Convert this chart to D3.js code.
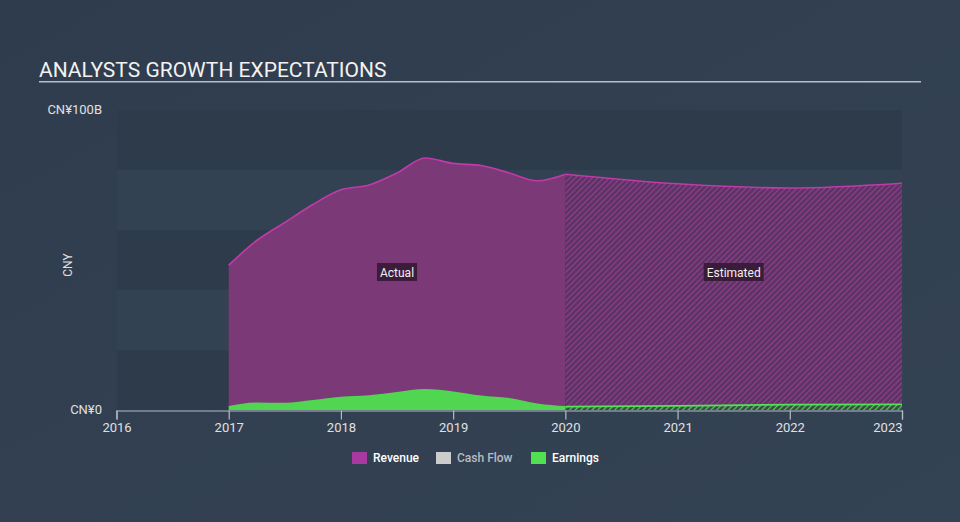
<!DOCTYPE html>
<html><head><meta charset="utf-8">
<script src="https://cdn.jsdelivr.net/npm/d3@7"></script>
<style>
html,body{margin:0;padding:0;background:#313f50;}
svg{display:block;font-family:Roboto,"Open Sans",sans-serif;}
</style></head>
<body>
<svg id="c" width="960" height="522"></svg>
<script>
const title = "ANALYSTS GROWTH EXPECTATIONS";
const xTicks = [2016, 2017, 2018, 2019, 2020, 2021, 2022, 2023];
const yTickLabels = ["CN¥0", "CN¥100B"];
const yTickValues = [0, 100];
const legendItems = ["Revenue", "Cash Flow", "Earnings"];

const actualDates = [2017.0, 2017.25, 2017.5, 2017.75, 2018.0, 2018.25, 2018.5, 2018.75, 2019.0, 2019.25, 2019.5, 2019.75, 2020.0];
const revenueActual = [48.3, 56.5, 62.5, 68.5, 73.4, 75.0, 79.0, 84.0, 82.2, 81.5, 79.0, 76.4, 78.6];
const earningsActual = [1.3, 2.5, 2.4, 3.3, 4.4, 4.9, 6.0, 7.0, 6.2, 4.8, 4.0, 2.2, 1.3];

const estDates = [2020.0, 2021.0, 2022.0, 2023.0];
const revenueEst = [78.6, 75.4, 74.0, 75.6];
const earningsEst = [1.1, 1.4, 1.8, 1.9];

const svg = d3.select("#c");
const W = 960, H = 522;

const defs = svg.append("defs");
const bg = defs.append("linearGradient").attr("id","bg").attr("x1","0").attr("y1","0").attr("x2","1").attr("y2","1");
bg.append("stop").attr("offset","0").attr("stop-color","#2f3c4d");
bg.append("stop").attr("offset","1").attr("stop-color","#344354");
svg.append("rect").attr("width",W).attr("height",H).attr("fill","url(#bg)");

function hatch(id, color, bgc){
  const p = defs.append("pattern").attr("id",id).attr("patternUnits","userSpaceOnUse")
    .attr("width",4).attr("height",4).attr("patternTransform","rotate(45)");
  p.append("rect").attr("width",4).attr("height",4).attr("fill",bgc);
  p.append("line").attr("x1",0).attr("y1",0).attr("x2",0).attr("y2",4).attr("stroke",color).attr("stroke-width",2.4);
}
hatch("hRev", "#933d90", "#5a3462");
hatch("hEarn", "#4fd64f", "#3a4a48");

const x = d3.scaleLinear().domain([2016, 2023]).range([116.5, 902]);
const y = d3.scaleLinear().domain([0, 100]).range([410, 110]);

const bands = [0, 20, 40, 60, 80];
svg.append("g").selectAll("rect").data(bands).join("rect")
  .attr("x", x(2016)+0.5).attr("width", x(2023)-x(2016)-0.5)
  .attr("y", d => y(d+20)).attr("height", d => y(d)-y(d+20))
  .attr("fill", (d,i) => i%2===0 ? "#2e3b4b" : "#334253");

svg.append("text").attr("x",39).attr("y",77).attr("fill","#f2f2f2")
  .attr("font-size",21).text(title);
svg.append("rect").attr("x",39).attr("y",81).attr("width",882).attr("height",1.5).attr("fill","#b9bec6");

const curve = d3.curveMonotoneX;
const area = d3.area().curve(curve).x(d=>x(d[0])).y0(y(0)).y1(d=>y(d[1]));
const line = d3.line().curve(curve).x(d=>x(d[0])).y(d=>y(d[1]));

const revA = actualDates.map((d,i)=>[d, revenueActual[i]]);
const earnA = actualDates.map((d,i)=>[d, earningsActual[i]]);
const revE = estDates.map((d,i)=>[d, revenueEst[i]]);
const earnE = estDates.map((d,i)=>[d, earningsEst[i]]);

svg.append("path").attr("d", area(revA)).attr("fill","#7b3a77");
svg.append("path").attr("d", area(revE)).attr("fill","url(#hRev)");
svg.append("path").attr("d", line(revA)).attr("fill","none").attr("stroke","#c03aa9").attr("stroke-width",1.6);
svg.append("path").attr("d", line(revE)).attr("fill","none").attr("stroke","#c03aa9").attr("stroke-width",1.6);

svg.append("path").attr("d", area(earnA)).attr("fill","#50d650");
svg.append("path").attr("d", area(earnE)).attr("fill","url(#hEarn)");
svg.append("path").attr("d", line(earnE)).attr("fill","none").attr("stroke","#55e055").attr("stroke-width",1.8);

function tag(cx, cy, txt){
  const g = svg.append("g");
  const t = g.append("text").attr("x",cx).attr("y",cy+4.5).attr("text-anchor","middle")
    .attr("fill","#f0f0f0").attr("font-size",12).text(txt);
  const b = t.node().getBBox();
  g.insert("rect","text").attr("x",b.x-3).attr("y",cy-9).attr("width",b.width+6).attr("height",18)
    .attr("fill","#351a33").attr("opacity",0.9);
}
tag((x(2017)+x(2020))/2, 272, "Actual");
tag((x(2020)+x(2023))/2, 272, "Estimated");

const xa = svg.append("g").attr("transform","translate(0,410.5)")
  .call(d3.axisBottom(x).tickValues(xTicks).tickFormat(d3.format("d")).tickSize(9).tickPadding(3));
xa.select(".domain").attr("stroke","#b4bcc6").attr("stroke-width",1.2);
xa.selectAll(".tick line").attr("stroke","#b4bcc6").attr("stroke-width",1.2);
xa.selectAll(".tick text").attr("fill","#e0e0e0").attr("font-size",13).attr("font-family","Roboto,sans-serif")
  .attr("text-anchor", d => d === xTicks[xTicks.length-1] ? "end" : "middle");

svg.append("g").selectAll("text").data(yTickValues).join("text")
  .attr("x",102).attr("y",d=>y(d)+4).attr("text-anchor","end")
  .attr("fill","#e0e0e0").attr("font-size",13).text((d,i)=>yTickLabels[i]);
svg.append("text").attr("transform","translate(72,265) rotate(-90)").attr("text-anchor","middle")
  .attr("fill","#e0e0e0").attr("font-size",12).text("CNY");

const legColors = ["#a8399e", "#cccccc", "#50e050"];
const legX = [352, 436, 531];
const legText = ["#ffffff", "#b8bcc2", "#ffffff"];
const lg = svg.append("g");
legendItems.forEach((n,i)=>{
  lg.append("rect").attr("x",legX[i]).attr("y",452).attr("width",15).attr("height",12).attr("fill",legColors[i]);
  lg.append("text").attr("x",legX[i]+21).attr("y",462).attr("fill",legText[i])
    .attr("font-size",12).attr("font-weight",500).text(n);
});
</script>
</body></html>
